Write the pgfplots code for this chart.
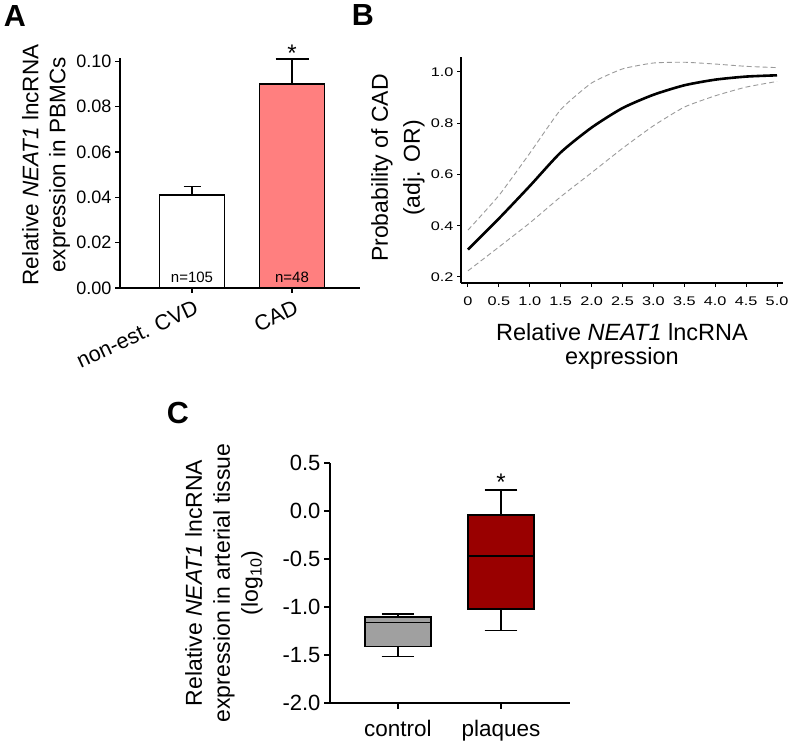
\documentclass[border=0pt]{standalone}
\usepackage{fontspec}
\setmainfont{Liberation Sans}
\newfontfamily\wideft[FakeStretch=1.3]{Liberation Sans}
\usepackage{pgfplots}
\pgfplotsset{compat=1.18}
\usepgfplotslibrary{statistics}
\definecolor{salmon}{HTML}{FF7F7F}
\definecolor{darkred}{HTML}{990000}
\definecolor{boxgray}{HTML}{A0A0A0}
\definecolor{cigray}{HTML}{9A9A9A}

\pgfplotsset{
  common/.style={
    scale only axis,
    axis lines=left,
    axis line style={-},
    tick align=outside,
    clip=false,
    /pgf/number format/assume math mode=true,
  }
}

\begin{document}
\begin{tikzpicture}
\path[use as bounding box] (0pt,0pt) rectangle (790pt,743pt);

% ---------------- Panel A ----------------
\begin{axis}[common,
  at={(120pt,455pt)}, anchor=south west,
  width=240pt, height=230pt,
  xmin=-0.72, xmax=1.68,
  ymin=0, ymax=0.1015,
  axis line style={line width=1.6pt},
  tick style={line width=1.4pt, black},
  major tick length=5pt,
  ytick={0,0.02,0.04,0.06,0.08,0.1},
  yticklabel style={font=\fontsize{18}{18}\selectfont,
     /pgf/number format/.cd, fixed, fixed zerofill, precision=2},
  xtick={0,1},
  xticklabels={non-est. CVD, CAD},
  xticklabel style={font=\fontsize{21.5}{21.5}\selectfont, rotate=25,
     anchor=north east, xshift=2pt, yshift=-3pt},
]
\addplot[ybar, bar width=65pt, bar shift=0pt, fill=white, draw=black, line width=1.8pt,
  error bars/.cd, y dir=plus, y explicit, error mark=|,
  error bar style={line width=1.5pt, black},
  error mark options={line width=1.5pt, mark size=8.5pt, black}]
  coordinates {(0,0.041) +- (0,0.0038)};
\addplot[ybar, bar width=65pt, bar shift=0pt, fill=salmon, draw=black, line width=1.8pt,
  error bars/.cd, y dir=plus, y explicit, error mark=|,
  error bar style={line width=1.5pt, black},
  error mark options={line width=1.5pt, mark size=16.5pt, black}]
  coordinates {(1,0.090) +- (0,0.011)};
\node[font=\fontsize{15}{15}\selectfont, anchor=south] at (axis cs:0,0.0008) {n=105};
\node[font=\fontsize{15}{15}\selectfont, anchor=south] at (axis cs:1,0.0008) {n=48};
\node[font=\fontsize{24}{24}\selectfont, anchor=north, inner sep=0pt] at (axis cs:1,0.1075) {*};
\end{axis}
\node[rotate=90, align=center, font=\fontsize{22.5}{27}\selectfont] at (46pt,578pt)
  {Relative \textit{NEAT1} lncRNA\\expression in PBMCs};

% ---------------- Panel B ----------------
\begin{axis}[common,
  at={(461pt,460pt)}, anchor=south west,
  width=322pt, height=226pt,
  xmin=-0.113, xmax=5.097,
  ymin=0.1766, ymax=1.0585,
  axis line style={line width=1.1pt},
  tick style={line width=1pt, black},
  major tick length=4pt,
  xtick={0,0.5,1,1.5,2,2.5,3,3.5,4,4.5,5},
  xticklabels={0,0.5,1.0,1.5,2.0,2.5,3.0,3.5,4.0,4.5,5.0},
  xticklabel style={font=\wideft\fontsize{12.5}{12.5}\selectfont, yshift=-6pt},
  ytick={0.2,0.4,0.6,0.8,1.0},
  yticklabel style={font=\wideft\fontsize{12.5}{12.5}\selectfont,
     /pgf/number format/.cd, fixed, fixed zerofill, precision=1},
]
\addplot[cigray, line width=0.9pt, dash pattern=on 5pt off 3pt, smooth, tension=0.3]
  coordinates {(0,0.383)(0.5,0.518)(1,0.683)(1.5,0.853)(2,0.957)(2.5,1.012)(3,1.035)(3.5,1.038)(4,1.031)(4.5,1.022)(5,1.017)};
\addplot[cigray, line width=0.9pt, dash pattern=on 5pt off 3pt, smooth, tension=0.3]
  coordinates {(0,0.224)(0.5,0.317)(1,0.411)(1.5,0.513)(2,0.607)(2.5,0.702)(3,0.790)(3.5,0.863)(4,0.907)(4.5,0.941)(5,0.963)};
\addplot[black, line width=2.6pt, smooth, tension=0.4]
  coordinates {(0,0.307)(0.5,0.428)(1,0.555)(1.5,0.686)(2,0.783)(2.5,0.859)(3,0.911)(3.5,0.948)(4,0.970)(4.5,0.982)(5,0.987)};
\end{axis}
\node[rotate=90, align=center, font=\fontsize{23}{32}\selectfont] at (398pt,575pt)
  {Probability of CAD\\(adj. OR)};
\node[align=center, font=\fontsize{23.5}{24}\selectfont] at (622pt,397pt)
  {Relative \textit{NEAT1} lncRNA\\expression};

% ---------------- Panel C ----------------
\begin{axis}[common,
  at={(330pt,40pt)}, anchor=south west,
  width=240pt, height=240pt,
  xmin=-0.66, xmax=1.67,
  ymin=-2, ymax=0.5,
  boxplot/draw direction=y,
  axis line style={line width=1.6pt},
  tick style={line width=1.4pt, black},
  major tick length=6pt,
  ytick={-2,-1.5,-1,-0.5,0,0.5},
  yticklabel style={font=\fontsize{22}{22}\selectfont,
     /pgf/number format/.cd, fixed, fixed zerofill, precision=1},
  xtick={0,1},
  xticklabels={control, plaques},
  xticklabel style={font=\fontsize{22.5}{22.5}\selectfont, yshift=-8pt},
]
\addplot[boxplot prepared={lower whisker=-1.515, lower quartile=-1.411, median=-1.162,
    upper quartile=-1.107, upper whisker=-1.075, draw position=0,
    box extend=0.64, whisker extend=0.32},
  fill=boxgray, draw=black, line width=1.8pt] coordinates {};
\addplot[boxplot prepared={lower whisker=-1.245, lower quartile=-1.020, median=-0.470,
    upper quartile=-0.044, upper whisker=0.216, draw position=1,
    box extend=0.64, whisker extend=0.32},
  fill=darkred, draw=black, line width=1.8pt] coordinates {};
\node[font=\fontsize{24}{24}\selectfont, anchor=north, inner sep=0pt] at (axis cs:1,0.39) {*};
\end{axis}
\node[rotate=90, align=center, font=\fontsize{23}{28}\selectfont] at (224pt,160pt)
  {Relative \textit{NEAT1} lncRNA\\expression in arterial tissue\\(log\textsubscript{10})};

% ---------------- Panel letters ----------------
\node[font=\bfseries\fontsize{30.5}{30.5}\selectfont] at (15pt,727pt) {A};
\node[font=\bfseries\fontsize{30.5}{30.5}\selectfont] at (363pt,728pt) {B};
\node[font=\bfseries\fontsize{30.5}{30.5}\selectfont] at (178pt,330pt) {C};
\end{tikzpicture}
\end{document}
